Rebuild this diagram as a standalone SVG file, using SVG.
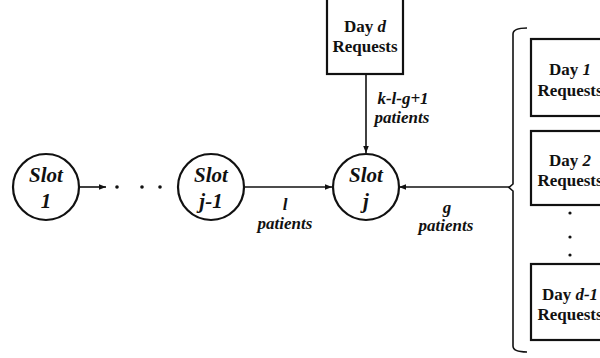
<svg xmlns="http://www.w3.org/2000/svg" width="600" height="358" viewBox="0 0 600 358">
<style>
text{font-family:"Liberation Serif","Times New Roman",serif;font-weight:bold;fill:#111;text-anchor:middle}
.bi{font-style:italic}
.slot{font-size:21px;font-style:italic}
.lbl{font-size:17px;font-style:italic}
.day{font-size:17px}
.node{fill:#fff;stroke:#111;stroke-width:2.2}
.conn{stroke:#111;stroke-width:1.6;fill:none}
.dot{fill:#111}
</style>
<defs>
<marker id="ah" viewBox="0 0 10 10" refX="10" refY="5" markerWidth="7" markerHeight="7" orient="auto" markerUnits="userSpaceOnUse">
<path d="M0,1 L10,5 L0,9 z" fill="#111"/>
</marker>
</defs>
<g id="connectors">
<line class="conn" x1="79" y1="187" x2="106" y2="187" marker-end="url(#ah)"/>
<line class="conn" x1="244" y1="187" x2="332" y2="187" marker-end="url(#ah)"/>
<line class="conn" x1="366" y1="74" x2="366" y2="153" marker-end="url(#ah)"/>
<line class="conn" x1="510" y1="187" x2="399" y2="187" marker-end="url(#ah)"/>
<path class="conn" d="M527,28 Q513,28 513,34 L513,184 L509,187.5 L513,191 L513,346 Q513,352 527,352"/>
<circle class="dot" cx="117" cy="187" r="1.8"/>
<circle class="dot" cx="142" cy="187" r="1.8"/>
<circle class="dot" cx="160" cy="187" r="1.8"/>
<circle class="dot" cx="570" cy="213" r="1.6"/>
<circle class="dot" cx="570" cy="237" r="1.6"/>
<circle class="dot" cx="570" cy="255" r="1.6"/>
<text class="lbl" x="285" y="210">l</text>
<text class="lbl" x="285" y="229">patients</text>
<text class="lbl" x="403" y="104">k-l-g+1</text>
<text class="lbl" x="402" y="123">patients</text>
<text class="lbl" x="447" y="213">g</text>
<text class="lbl" x="446" y="231">patients</text>
</g>
<g id="slot1">
<circle class="node" cx="46" cy="187" r="33"/>
<text class="slot" x="46" y="182">Slot</text>
<text class="slot" x="46" y="208">1</text>
</g>
<g id="slotj1">
<circle class="node" cx="211" cy="187" r="33"/>
<text class="slot" x="211" y="182">Slot</text>
<text class="slot" x="211" y="208">j-1</text>
</g>
<g id="slotj">
<circle class="node" cx="366" cy="187" r="33"/>
<text class="slot" x="366" y="182">Slot</text>
<text class="slot" x="366" y="208">j</text>
</g>
<g id="dayd">
<rect class="node" x="327" y="-2" width="76" height="76"/>
<text class="day" x="365" y="32">Day <tspan class="bi">d</tspan></text>
<text class="day" x="365" y="52">Requests</text>
</g>
<g id="day1">
<rect class="node" x="531" y="39" width="78" height="77"/>
<text class="day" x="570" y="75">Day <tspan class="bi">1</tspan></text>
<text class="day" x="570" y="96">Requests</text>
</g>
<g id="day2">
<rect class="node" x="531" y="131" width="78" height="74"/>
<text class="day" x="570" y="166">Day <tspan class="bi">2</tspan></text>
<text class="day" x="570" y="186">Requests</text>
</g>
<g id="daydm1">
<rect class="node" x="531" y="264" width="78" height="76"/>
<text class="day" x="570" y="300">Day <tspan class="bi">d-1</tspan></text>
<text class="day" x="570" y="320">Requests</text>
</g>
</svg>
